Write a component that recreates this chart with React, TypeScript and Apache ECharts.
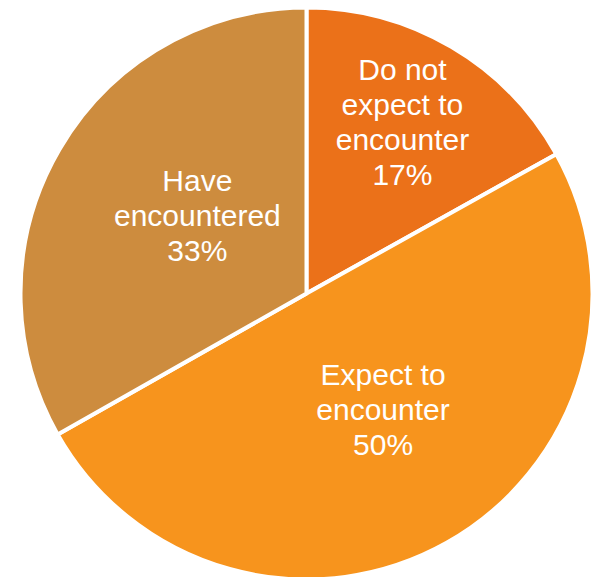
import React, { useEffect, useRef } from "react";
import * as echarts from "echarts";

const categories = ["Do not\nexpect to\nencounter", "Expect to\nencounter", "Have\nencountered"];
const values = [16.9, 49.9, 33.2];
const colors = ["#EB7119", "#F7941D", "#CD8C3E"];
// label nudges (px) relative to ECharts' default inside position
const labelNudges: [number, number][] = [
  [22, -46],
  [5, -11],
  [17, -4],
];

export default function App() {
  const ref = useRef<HTMLDivElement>(null);
  useEffect(() => {
    document.body.style.margin = "0";
    if (!ref.current) return;
    const chart = echarts.init(ref.current, undefined, { renderer: "svg" });
    chart.setOption({
      animation: false,
      backgroundColor: "#ffffff",
      series: [
        {
          type: "pie",
          center: [306.5, 293.5],
          radius: 286,
          startAngle: 90,
          clockwise: true,
          avoidLabelOverlap: false,
          itemStyle: { borderColor: "#ffffff", borderWidth: 4 },
          label: {
            show: true,
            position: "inside",
            formatter: (p: any) => `${p.name}\n${Math.round(p.value)}%`,
            color: "#ffffff",
            fontFamily: "Liberation Sans, Arial, sans-serif",
            fontSize: 30,
            lineHeight: 35,
            align: "center",
          },
          labelLine: { show: false },
          emphasis: { disabled: true },
          labelLayout: (params: any) => {
            const n = labelNudges[params.dataIndex] || [0, 0];
            return { dx: n[0], dy: n[1] };
          },
          data: categories.map((name, i) => ({
            name,
            value: values[i],
            itemStyle: { color: colors[i] },
          })),
        },
      ],
    });
    return () => chart.dispose();
  }, []);
  return <div ref={ref} style={{ width: 594, height: 577 }} />;
}
